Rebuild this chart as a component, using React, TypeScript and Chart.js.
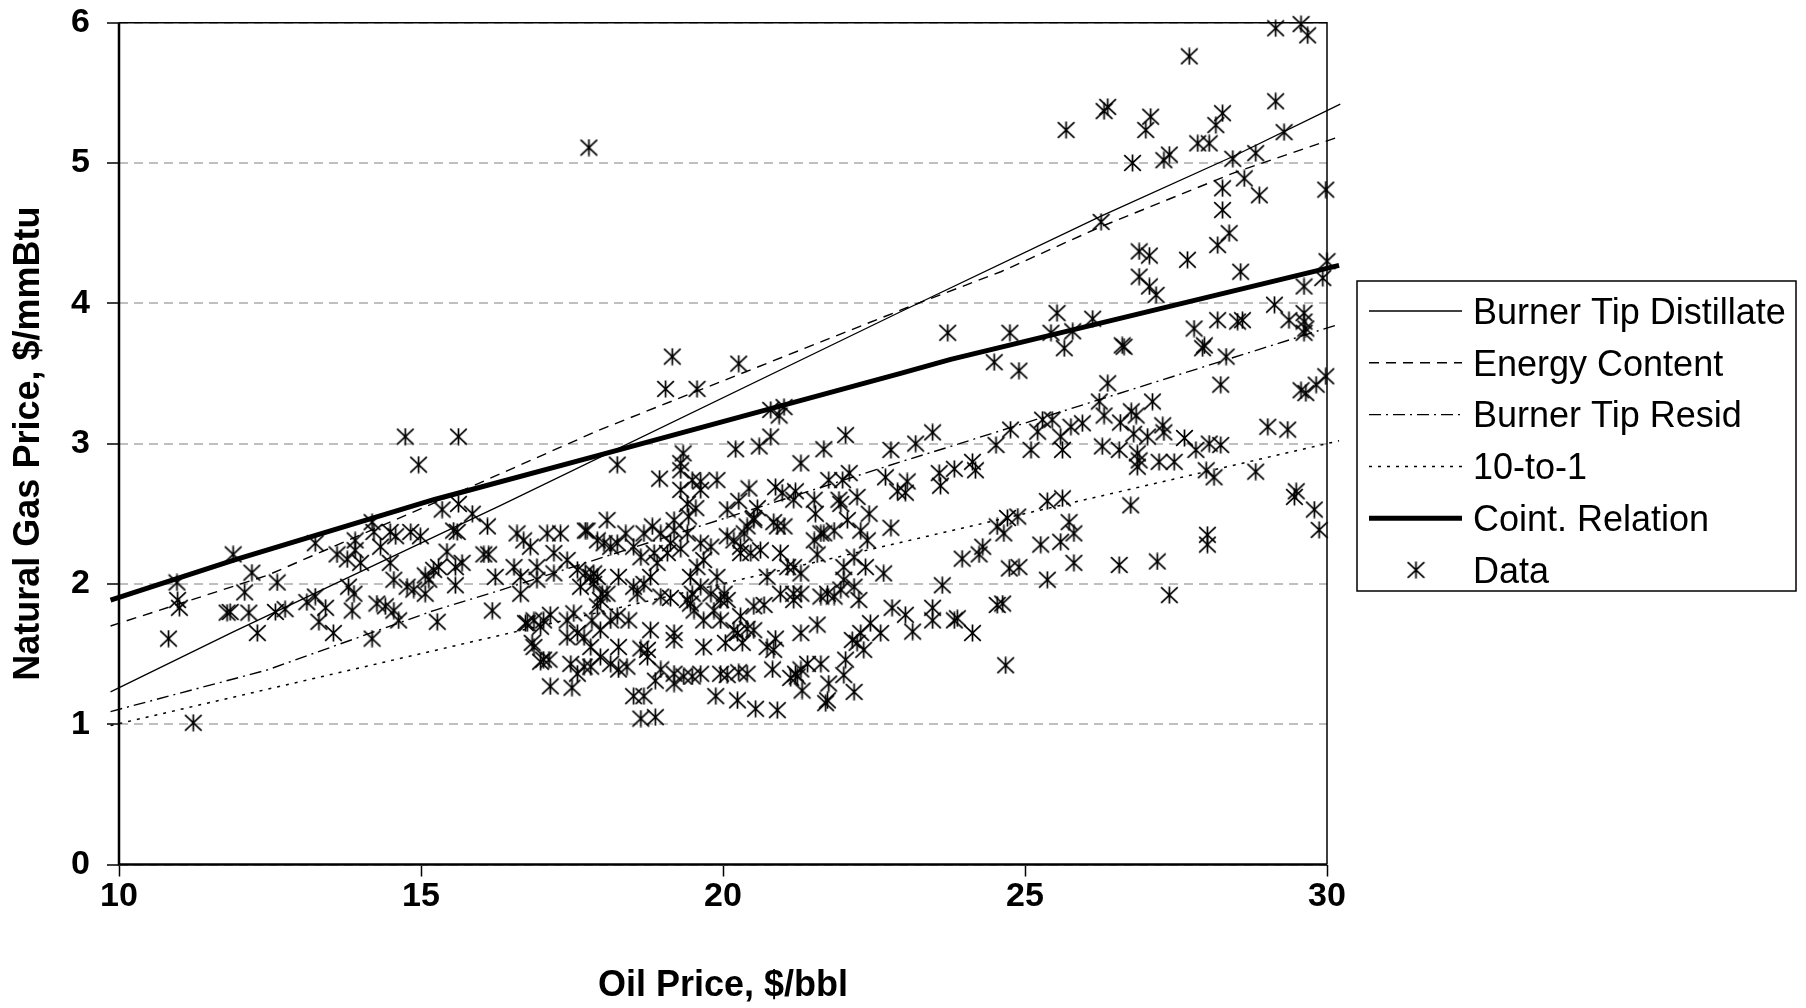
import React, { useEffect, useRef } from "react";
import { Chart, registerables } from "chart.js";

Chart.register(...registerables);

// Monthly observations: [oil price $/bbl, natural gas price $/mmBtu]
const observations: [number, number][] = [
  [10.82, 1.61], [10.96, 2.01], [10.97, 1.885], [11.0, 1.83], [11.23, 1.01], [11.89, 2.21], [11.79, 1.795], [11.84, 1.8],
  [12.08, 1.94], [12.15, 1.795], [12.2, 2.08], [12.29, 1.65], [12.62, 2.01], [12.59, 1.8], [12.75, 1.82], [13.11, 1.87],
  [13.25, 2.29], [13.25, 1.91], [13.31, 1.73], [13.42, 1.83], [13.55, 1.65], [13.61, 2.21], [13.78, 2.175], [13.8, 1.98],
  [13.86, 1.81], [13.89, 1.93], [13.91, 2.31], [13.91, 2.24], [14.0, 2.15], [14.19, 2.44], [14.19, 1.61], [14.22, 2.37],
  [14.27, 1.86], [14.33, 2.265], [14.41, 1.84], [14.49, 2.37], [14.49, 2.15], [14.55, 1.81], [14.58, 2.34], [14.55, 2.03],
  [14.63, 1.74], [14.74, 3.05], [14.77, 1.98], [14.83, 2.37], [14.88, 1.96], [14.96, 2.85], [14.99, 2.34], [15.07, 1.93],
  [15.07, 2.06], [15.13, 2.03], [15.21, 2.1], [15.27, 1.73], [15.29, 2.12], [15.35, 2.53], [15.43, 2.23], [15.54, 2.38],
  [15.57, 2.12], [15.57, 1.99], [15.6, 2.37], [15.62, 3.05], [15.62, 2.57], [15.68, 2.15], [15.85, 2.5], [16.04, 2.21],
  [16.1, 2.41], [16.12, 2.21], [16.18, 1.81], [16.23, 2.05],
  [19.16, 3.62], [20.26, 3.57], [19.05, 3.39], [19.57, 3.39], [23.72, 3.79], [20.79, 3.24], [20.93, 3.2], [21.01, 3.26],
  [20.79, 3.05], [18.25, 2.85], [20.21, 2.96], [20.6, 2.98], [21.67, 2.96], [22.03, 3.06], [22.78, 2.955], [23.19, 3.0],
  [23.47, 3.08], [21.29, 2.86], [19.34, 2.93], [19.3, 2.86], [18.95, 2.75], [19.3, 2.81], [19.49, 2.74], [19.63, 2.73],
  [19.9, 2.74], [19.63, 2.67], [19.3, 2.67], [20.43, 2.68], [20.87, 2.69], [20.98, 2.65], [21.2, 2.66], [21.17, 2.6],
  [21.75, 2.74], [22.09, 2.79], [21.98, 2.74], [22.69, 2.76], [23.05, 2.73], [22.89, 2.66], [23.02, 2.65], [23.58, 2.79],
  [23.6, 2.7], [21.51, 2.6], [21.92, 2.6], [22.22, 2.62], [22.42, 2.5], [21.95, 2.57], [21.53, 2.5], [22.06, 2.455],
  [20.07, 2.53], [20.26, 2.59], [20.57, 2.54], [20.51, 2.47], [20.9, 2.41], [21.01, 2.41], [20.84, 2.44], [19.55, 2.54],
  [19.41, 2.57], [19.19, 2.455], [19.43, 2.48], [18.08, 2.455], [17.72, 2.38], [22.78, 2.4], [21.67, 2.36], [21.84, 2.38],
  [22.28, 2.38], [22.39, 2.31], [22.36, 2.12], [22.66, 2.075], [23.63, 1.99], [22.8, 1.83], [23.02, 1.78], [23.14, 1.66],
  [23.47, 1.83], [23.47, 1.74], [22.61, 1.65], [22.44, 1.72], [22.28, 1.65], [22.22, 1.58], [22.33, 1.53], [22.14, 1.6],
  [22.03, 1.46], [22.0, 1.35], [22.17, 1.23], [21.75, 1.29], [21.73, 1.17], [21.7, 1.15], [21.62, 1.43], [21.4, 1.43],
  [21.31, 1.24], [21.23, 1.34], [21.12, 1.33], [21.2, 1.36], [21.29, 1.39], [21.56, 1.71], [21.29, 1.65], [20.87, 1.61],
  [20.84, 1.53], [20.73, 1.55], [20.9, 1.1], [20.54, 1.11], [20.82, 1.39], [20.4, 1.36], [20.26, 1.37], [20.07, 1.35],
  [19.96, 1.36], [20.24, 1.17], [20.24, 1.65], [20.4, 1.68], [20.51, 1.67], [20.18, 1.67], [20.04, 1.58], [20.32, 1.58],
  [19.88, 1.2], [19.68, 1.55], [19.63, 1.36], [19.49, 1.34], [19.35, 1.34], [19.19, 1.29], [19.19, 1.36], [18.97, 1.39],
  [18.88, 1.31], [18.69, 1.2], [18.52, 1.2], [18.64, 1.04], [18.88, 1.05], [19.19, 1.65], [19.19, 1.6], [18.8, 1.67],
  [18.75, 1.53], [18.64, 1.54], [18.75, 1.48], [18.41, 1.41], [18.27, 1.39], [18.14, 1.43], [17.97, 1.48], [17.81, 1.41],
  [17.7, 1.41], [17.59, 1.36], [17.48, 1.43], [17.5, 1.26], [17.14, 1.27], [17.03, 1.46], [16.98, 1.445], [17.12, 1.46],
  [16.87, 1.55], [16.84, 1.58], [16.73, 1.72], [17.03, 1.74], [17.14, 1.78], [17.42, 1.74], [17.53, 1.79], [17.59, 1.65],
  [17.42, 1.62], [17.7, 1.62], [17.83, 1.74], [17.97, 1.67], [18.14, 1.74], [17.92, 1.84], [17.97, 1.885], [18.0, 1.93],
  [18.25, 1.77], [18.44, 1.74], [18.27, 1.55], [17.81, 1.55], [17.64, 1.98], [17.72, 2.075], [17.86, 2.075], [17.92, 2.05],
  [18.27, 2.05], [18.08, 1.93], [18.52, 1.98], [18.69, 2.0], [18.8, 2.05], [18.58, 1.93], [18.97, 1.91], [19.13, 1.9],
  [18.91, 2.15], [19.08, 2.22], [18.86, 2.22], [18.64, 2.19], [18.52, 2.265], [18.25, 2.29], [18.14, 2.265], [18.03, 2.29],
  [17.92, 2.31], [18.39, 2.36], [18.69, 2.36], [18.83, 2.41], [18.97, 2.36], [19.19, 2.38], [19.41, 2.36], [19.13, 2.29],
  [19.3, 2.25], [19.63, 2.29], [19.8, 2.265], [19.68, 2.17], [19.57, 2.12], [19.46, 2.05], [19.63, 1.98], [19.49, 1.93],
  [19.46, 1.86], [19.52, 1.81], [19.41, 1.885], [19.8, 1.93], [19.9, 2.05], [20.02, 1.93], [20.07, 1.885], [19.96, 1.885],
  [19.85, 1.81], [19.68, 1.74], [19.96, 1.74], [20.29, 1.77], [20.51, 1.84], [20.68, 1.85], [20.73, 2.05], [20.95, 1.93],
  [21.17, 1.93], [21.17, 1.885], [21.29, 1.93], [21.29, 2.075], [21.17, 2.12], [21.62, 1.91], [21.73, 1.93], [21.84, 1.91],
  [21.95, 1.96], [22.0, 2.03], [22.17, 1.98], [22.25, 1.885], [22.17, 2.19], [22.0, 2.12], [21.56, 2.21], [21.51, 2.31],
  [21.62, 2.36], [20.07, 2.34], [20.18, 2.31], [20.29, 2.265], [20.29, 2.22], [20.46, 2.22], [20.62, 2.24], [20.35, 2.36],
  [20.51, 2.455], [20.4, 2.41], [20.95, 2.22], [21.07, 2.12], [16.59, 2.36], [16.7, 2.31], [17.09, 2.36], [17.31, 2.36],
  [17.75, 2.38], [16.81, 2.265], [16.54, 2.12], [16.92, 2.12], [17.2, 2.075], [16.65, 2.05], [16.65, 1.93], [16.92, 2.03],
  [17.2, 2.22], [17.42, 2.17], [17.59, 2.1], [17.81, 2.05], [17.86, 2.0], [16.87, 1.74], [16.76, 1.72], [16.98, 1.695],
  [17.78, 5.11],
  [27.06, 4.34], [26.89, 4.37], [27.69, 4.31], [26.89, 4.19], [27.06, 4.12], [27.17, 4.06], [28.57, 4.225], [30.0, 4.3],
  [29.93, 4.18], [29.62, 4.12], [24.75, 3.79], [25.53, 3.93], [25.43, 3.79], [25.79, 3.8], [25.65, 3.68], [26.12, 3.89],
  [24.49, 3.58], [24.9, 3.52], [26.61, 3.7], [26.64, 3.69], [27.8, 3.82], [27.97, 3.7], [27.94, 3.68], [28.19, 3.88],
  [28.52, 3.87], [28.6, 3.88], [28.33, 3.62], [29.13, 3.99], [29.37, 3.88], [29.62, 3.93], [29.62, 3.87], [29.62, 3.79],
  [29.65, 3.82], [28.24, 3.42], [29.57, 3.38], [29.65, 3.36], [29.82, 3.42], [29.98, 3.48], [26.37, 3.43], [26.23, 3.3],
  [26.31, 3.2], [26.76, 3.23], [26.84, 3.2], [27.11, 3.3], [26.58, 3.15], [26.8, 3.07], [27.03, 3.05], [27.28, 3.13],
  [27.3, 3.08], [27.64, 3.04], [27.83, 2.955], [28.05, 3.0], [28.24, 2.99], [29.02, 3.12], [29.35, 3.1], [26.28, 2.98],
  [26.56, 2.955], [26.86, 2.93], [26.89, 2.88], [26.86, 2.835], [27.22, 2.87], [27.47, 2.87], [28.0, 2.81], [28.13, 2.76],
  [28.82, 2.8], [25.95, 3.145], [25.76, 3.12], [25.59, 3.05], [25.62, 2.955], [25.45, 3.17], [25.29, 3.17], [25.21, 3.085],
  [25.1, 2.955], [24.76, 3.1], [24.52, 2.99], [23.83, 2.82], [24.13, 2.87], [24.18, 2.81], [25.37, 2.59], [25.62, 2.61],
  [26.75, 2.56], [24.71, 2.47], [24.88, 2.48], [24.54, 2.41], [24.65, 2.36], [24.3, 2.265], [24.24, 2.21], [23.96, 2.18],
  [25.26, 2.28], [25.59, 2.3], [25.73, 2.44], [25.81, 2.36], [25.81, 2.15], [25.37, 2.03], [24.74, 2.11], [24.9, 2.12],
  [26.56, 2.135], [27.19, 2.16], [27.39, 1.92], [28.02, 2.35], [28.02, 2.28], [29.49, 2.66], [29.46, 2.62], [29.79, 2.53],
  [29.87, 2.385], [24.54, 1.85], [24.63, 1.86], [24.68, 1.42], [23.83, 1.74], [23.88, 1.755], [24.13, 1.65],
  [29.15, 5.96], [29.57, 5.99], [29.68, 5.91], [27.72, 5.76], [25.68, 5.235], [26.31, 5.37], [26.37, 5.4], [27.08, 5.33],
  [27.0, 5.235], [28.27, 5.355], [28.16, 5.27], [27.86, 5.14], [28.05, 5.14], [29.15, 5.44], [29.29, 5.22], [26.78, 5.0],
  [27.3, 5.02], [27.39, 5.06], [28.44, 5.03], [28.82, 5.07], [29.98, 4.81], [28.63, 4.89], [28.27, 4.82], [28.88, 4.77],
  [28.27, 4.665], [26.26, 4.58], [28.38, 4.5], [28.19, 4.415],
];

// Pricing rules: gas price implied by the oil price
const burnerTipDistillate: [number, number][] = [
  [9.86, 1.23], [11.9, 1.66], [16.32, 2.56], [22.94, 3.94], [26.25, 4.62], [28.46, 5.05], [30.22, 5.42],
];
const energyContent: [number, number][] = [
  [9.86, 1.7], [12.45, 2.06], [15.21, 2.575], [17.97, 3.1], [23.11, 3.98], [24.6, 4.225], [26.25, 4.545], [28.46, 4.93], [30.22, 5.19],
];
const burnerTipResid: [number, number][] = [
  [9.86, 1.09], [12.45, 1.386], [15.21, 1.81], [16.32, 1.956], [22.94, 2.87], [23.77, 2.98], [29.9, 3.81], [30.2, 3.85],
];
const tenToOne: [number, number][] = [
  [9.86, 0.99], [30.2, 3.02],
];
const cointRelation: [number, number][] = [
  [9.86, 1.885], [11.9, 2.17], [15.21, 2.6], [17.97, 2.92], [22.94, 3.5], [23.77, 3.6], [30.2, 4.27],
];

const yTicks = [0, 1, 2, 3, 4, 5, 6];
const xTicks = [10, 15, 20, 25, 30];

const FONT = "'Liberation Sans', Arial, Helvetica, sans-serif";

const toPoints = (pairs: [number, number][]) => pairs.map(([x, y]) => ({ x, y }));

// Six-spoke asterisk used as the observation marker
function makeAsterisk(): HTMLCanvasElement {
  const c = document.createElement("canvas");
  c.width = 19;
  c.height = 18;
  const g = c.getContext("2d")!;
  g.strokeStyle = "#000";
  g.lineWidth = 1.7;
  g.beginPath();
  g.moveTo(9.5, 0.5);
  g.lineTo(9.5, 17.5);
  g.moveTo(1.2, 1.2);
  g.lineTo(17.8, 16.8);
  g.moveTo(17.8, 1.2);
  g.lineTo(1.2, 16.8);
  g.stroke();
  return c;
}

export default function App() {
  const canvasRef = useRef<HTMLCanvasElement | null>(null);

  useEffect(() => {
    const canvas = canvasRef.current;
    if (!canvas) return;
    const marker = makeAsterisk();

    const lineSet = (label: string, pts: [number, number][], width: number, dash: number[]) => ({
      label,
      data: toPoints(pts),
      showLine: true,
      borderColor: "#000",
      backgroundColor: "#000",
      borderWidth: width,
      borderDash: dash,
      borderCapStyle: "butt" as const,
      pointRadius: 0,
      pointHoverRadius: 0,
      tension: 0,
      fill: false,
      clip: false as const,
    });

    const frame = {
      id: "plotFrame",
      beforeDatasetsDraw(chart: any) {
        const { ctx, chartArea: a } = chart;
        ctx.save();
        ctx.strokeStyle = "#000";
        ctx.setLineDash([]);
        ctx.lineWidth = 1.5;
        ctx.beginPath();
        ctx.moveTo(a.left, a.top);
        ctx.lineTo(a.right, a.top);
        ctx.lineTo(a.right, a.bottom);
        ctx.stroke();
        ctx.lineWidth = 2.5;
        ctx.beginPath();
        ctx.moveTo(a.left, a.top);
        ctx.lineTo(a.left, a.bottom);
        ctx.lineTo(a.right, a.bottom);
        ctx.stroke();
        ctx.restore();
      },
    };

    const boxLegend = {
      id: "boxLegend",
      afterDraw(chart: any) {
        const ctx = chart.ctx as CanvasRenderingContext2D;
        ctx.save();
        ctx.strokeStyle = "#000";
        ctx.lineWidth = 1.5;
        ctx.setLineDash([]);
        ctx.strokeRect(1357, 281, 439, 310);
        const rowTop = 311;
        const rowStep = 51.8;
        chart.data.datasets.forEach((ds: any, i: number) => {
          const y = rowTop + rowStep * i;
          if (ds.showLine) {
            ctx.beginPath();
            ctx.setLineDash(ds.borderDash || []);
            ctx.lineWidth = ds.borderWidth;
            ctx.lineCap = "butt";
            ctx.moveTo(1369, y);
            ctx.lineTo(1462, y);
            ctx.stroke();
            ctx.setLineDash([]);
          } else {
            ctx.drawImage(marker, 1416 - marker.width / 2, y - marker.height / 2);
          }
          ctx.fillStyle = "#000";
          ctx.font = `36px ${FONT}`;
          ctx.textBaseline = "alphabetic";
          ctx.textAlign = "left";
          ctx.fillText(ds.label, 1473, y + 12.7);
        });
        ctx.restore();
      },
    };

    const chart = new Chart(canvas, {
      type: "scatter",
      data: {
        datasets: [
          lineSet("Burner Tip Distillate", burnerTipDistillate, 1.3, []),
          lineSet("Energy Content", energyContent, 1.4, [10, 7]),
          lineSet("Burner Tip Resid", burnerTipResid, 1.4, [12, 5, 2, 5]),
          lineSet("10-to-1", tenToOne, 1.5, [3, 6]),
          lineSet("Coint. Relation", cointRelation, 5, []),
          {
            label: "Data",
            data: toPoints(observations),
            showLine: false,
            pointStyle: marker as any,
            pointRadius: 9,
            pointHoverRadius: 9,
            borderColor: "#000",
            backgroundColor: "#000",
            clip: false as const,
          },
        ],
      },
      options: {
        animation: false,
        responsive: false,
        devicePixelRatio: 1,
        events: [],
        layout: { padding: { top: 22.7, right: 479, bottom: 0, left: 0 } },
        plugins: {
          legend: { display: false },
          tooltip: { enabled: false },
          title: { display: false },
        },
        scales: {
          x: {
            type: "linear",
            min: 10,
            max: 30,
            afterFit(scale: any) {
              scale.height = 143.5;
              scale.paddingLeft = 0;
              scale.paddingRight = 0;
            },
            afterBuildTicks(scale: any) {
              scale.ticks = xTicks.map((v) => ({ value: v }));
            },
            grid: {
              drawOnChartArea: false,
              drawTicks: true,
              tickLength: 12,
              tickColor: "#000",
              tickWidth: 1.5,
              tickBorderDash: [],
            },
            border: { display: false },
            ticks: {
              color: "#000",
              padding: 0,
              maxRotation: 0,
              font: { family: FONT, size: 34, weight: "bold" },
            },
            title: {
              display: true,
              text: "Oil Price, $/bbl",
              color: "#000",
              padding: { top: 0, bottom: 0 },
              font: { family: FONT, size: 36, weight: "bold" },
            },
          },
          y: {
            type: "linear",
            min: 0,
            max: 6,
            afterFit(scale: any) {
              scale.width = 119;
              scale.paddingTop = 0;
              scale.paddingBottom = 0;
            },
            afterBuildTicks(scale: any) {
              scale.ticks = yTicks.map((v) => ({ value: v }));
            },
            grid: {
              drawOnChartArea: true,
              color: "#bfbfbf",
              lineWidth: 2,
              drawTicks: true,
              tickLength: 12,
              tickColor: "#000",
              tickWidth: 1.5,
              tickBorderDash: [],
            },
            border: { display: false, dash: [9, 6] },
            ticks: {
              color: "#000",
              padding: 17,
              font: { family: FONT, size: 34, weight: "bold" },
            },
            title: {
              display: true,
              text: "Natural Gas Price, $/mmBtu",
              color: "#000",
              padding: { top: 7, bottom: 0 },
              font: { family: FONT, size: 36, weight: "bold" },
            },
          },
        },
      },
      plugins: [frame, boxLegend],
    });

    return () => chart.destroy();
  }, []);

  return (
    <div style={{ position: "absolute", left: 0, top: 0, width: 1806, height: 1008, background: "#fff" }}>
      <canvas ref={canvasRef} width={1806} height={1008} style={{ width: 1806, height: 1008, display: "block" }} />
    </div>
  );
}
